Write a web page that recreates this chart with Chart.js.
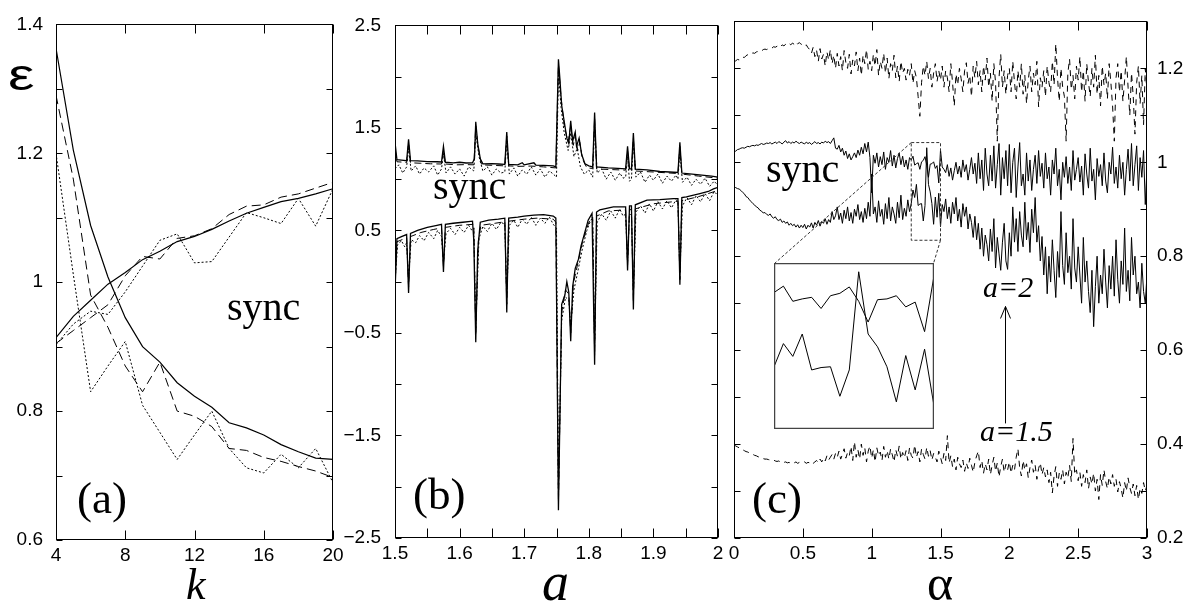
<!DOCTYPE html>
<html>
<head>
<meta charset="utf-8">
<title>sync</title>
<script src="https://cdn.jsdelivr.net/npm/chart.js@4.4.1/dist/chart.umd.min.js"></script>
<style>
  body { margin: 0; background: #fff; }
  #stage { position: relative; width: 1194px; height: 604px; overflow: hidden; }
  #stage canvas { position: absolute; left: 0; top: 0; }
  .txt { position: absolute; line-height: 1; white-space: nowrap; color: #000;
         font-family: "Liberation Serif", "Times New Roman", serif; }
  .it { font-style: italic; }
</style>
</head>
<body>
<div id="stage">
  <canvas id="chartA" width="1194" height="604"></canvas>
  <canvas id="chartB" width="1194" height="604"></canvas>
  <canvas id="chartC" width="1194" height="604"></canvas>
  <canvas id="chartInset" width="160" height="166"></canvas>

  <div class="txt" style="left:8px;top:53px;font-family:'Liberation Sans',Arial,sans-serif;font-size:44px;transform:scaleX(1.35);transform-origin:left">ε</div>
  <div class="txt" style="left:227px;top:287px;font-size:40px">sync</div>
  <div class="txt" style="left:433px;top:166px;font-size:40px">sync</div>
  <div class="txt" style="left:766px;top:149px;font-size:40px">sync</div>
  <div class="txt" style="left:77px;top:476px;font-size:45px">(a)</div>
  <div class="txt" style="left:413px;top:472px;font-size:45px">(b)</div>
  <div class="txt" style="left:752px;top:476px;font-size:45px">(c)</div>
  <div class="txt it" style="left:186px;top:563px;font-size:44px">k</div>
  <div class="txt it" style="left:542px;top:555px;font-size:54px">a</div>
  <div class="txt" style="left:927px;top:558px;font-size:50px">α</div>
  <div class="txt it" style="left:983px;top:272px;font-size:30px">a=2</div>
  <div class="txt it" style="left:980px;top:416px;font-size:30px">a=1.5</div>
</div>

<script>
// ---- panel (a): epsilon vs k ----
const kValues = [4, 5, 6, 7, 8, 9, 10, 11, 12, 13, 14, 15, 16, 17, 18, 19, 20];
const aLowSolid = [1.363, 1.205, 1.088, 1.008, 0.945, 0.900, 0.876, 0.844, 0.823, 0.806, 0.782, 0.774, 0.763, 0.748, 0.737, 0.727, 0.725];
const aLowDash  = [1.290, 1.160, 0.980, 0.930, 0.870, 0.830, 0.876, 0.800, 0.792, 0.776, 0.742, 0.739, 0.728, 0.722, 0.714, 0.707, 0.697];
const aLowDot   = [1.200, 1.012, 0.830, 0.870, 0.908, 0.809, 0.767, 0.725, 0.763, 0.800, 0.742, 0.712, 0.704, 0.733, 0.712, 0.742, 0.689];
const aUpSolid  = [0.914, 0.947, 0.972, 0.997, 1.015, 1.035, 1.048, 1.063, 1.071, 1.082, 1.095, 1.107, 1.116, 1.125, 1.130, 1.137, 1.145];
const aUpDash   = [0.905, 0.925, 0.945, 0.965, 1.010, 1.040, 1.036, 1.068, 1.072, 1.083, 1.105, 1.118, 1.120, 1.132, 1.137, 1.146, 1.155];
const aUpDot    = [0.903, 0.935, 0.955, 0.950, 0.985, 1.025, 1.065, 1.075, 1.030, 1.032, 1.070, 1.108, 1.100, 1.091, 1.130, 1.087, 1.145];

// ---- panel (b): [a, value] pairs ----
const bUpSolid = [[1.5,1.36],[1.503,1.19],[1.51,1.185],[1.518,1.18],[1.521,1.39],[1.524,1.18],[1.535,1.178],[1.55,1.172],[1.565,1.17],[1.572,1.168],[1.575,1.32],[1.578,1.165],[1.59,1.16],[1.6,1.165],[1.61,1.158],[1.62,1.16],[1.623,1.2],[1.625,1.56],[1.628,1.35],[1.632,1.2],[1.636,1.15],[1.65,1.152],[1.66,1.148],[1.67,1.145],[1.673,1.46],[1.676,1.145],[1.69,1.14],[1.697,1.16],[1.7,1.14],[1.715,1.16],[1.718,1.138],[1.73,1.135],[1.745,1.13],[1.749,1.12],[1.753,2.17],[1.755,2.0],[1.758,1.72],[1.762,1.56],[1.766,1.4],[1.769,1.35],[1.772,1.57],[1.775,1.37],[1.779,1.46],[1.781,1.32],[1.785,1.4],[1.789,1.24],[1.794,1.15],[1.8,1.13],[1.806,1.12],[1.809,1.65],[1.812,1.12],[1.83,1.11],[1.845,1.105],[1.857,1.1],[1.86,1.32],[1.863,1.1],[1.866,1.1],[1.869,1.45],[1.872,1.098],[1.89,1.09],[1.91,1.075],[1.925,1.07],[1.938,1.065],[1.941,1.36],[1.944,1.06],[1.96,1.05],[1.975,1.04],[1.99,1.03],[2.0,1.02]];
const bUpDash = [[1.5,1.3],[1.503,1.17],[1.515,1.165],[1.518,1.162],[1.521,1.35],[1.524,1.16],[1.54,1.155],[1.555,1.15],[1.572,1.148],[1.575,1.28],[1.578,1.148],[1.595,1.14],[1.61,1.142],[1.622,1.14],[1.625,1.52],[1.629,1.3],[1.634,1.14],[1.65,1.135],[1.67,1.13],[1.673,1.42],[1.676,1.13],[1.69,1.125],[1.71,1.128],[1.73,1.12],[1.749,1.11],[1.753,2.12],[1.757,1.8],[1.762,1.52],[1.768,1.36],[1.772,1.52],[1.776,1.33],[1.779,1.42],[1.783,1.28],[1.786,1.36],[1.79,1.2],[1.797,1.11],[1.806,1.105],[1.809,1.6],[1.812,1.1],[1.83,1.095],[1.857,1.088],[1.86,1.28],[1.863,1.085],[1.866,1.084],[1.869,1.4],[1.872,1.08],[1.9,1.07],[1.938,1.055],[1.941,1.32],[1.944,1.05],[1.97,1.03],[2.0,1.01]];
const bUpDot = [[1.5,1.1],[1.506,1.14],[1.512,1.06],[1.518,1.12],[1.521,1.3],[1.525,1.08],[1.532,1.13],[1.538,1.05],[1.545,1.11],[1.552,1.07],[1.56,1.13],[1.566,1.04],[1.572,1.1],[1.575,1.25],[1.579,1.06],[1.586,1.12],[1.593,1.05],[1.6,1.1],[1.607,1.03],[1.614,1.12],[1.622,1.08],[1.625,1.45],[1.63,1.22],[1.636,1.08],[1.643,1.12],[1.65,1.04],[1.657,1.1],[1.664,1.06],[1.67,1.07],[1.673,1.38],[1.677,1.05],[1.684,1.11],[1.69,1.03],[1.697,1.09],[1.704,1.05],[1.711,1.12],[1.718,1.04],[1.725,1.1],[1.732,1.02],[1.739,1.08],[1.745,1.05],[1.75,1.02],[1.753,2.05],[1.757,1.7],[1.762,1.45],[1.768,1.28],[1.772,1.45],[1.777,1.22],[1.782,1.3],[1.787,1.12],[1.793,1.05],[1.8,1.09],[1.806,1.02],[1.809,1.52],[1.813,1.06],[1.82,1.1],[1.827,1.0],[1.834,1.07],[1.841,0.99],[1.848,1.06],[1.853,1.01],[1.857,1.02],[1.86,1.22],[1.863,0.98],[1.866,1.0],[1.869,1.35],[1.873,1.02],[1.88,1.07],[1.887,0.97],[1.894,1.04],[1.9,0.99],[1.907,1.05],[1.914,0.96],[1.921,1.03],[1.928,0.98],[1.935,1.04],[1.938,1.0],[1.941,1.28],[1.945,0.97],[1.952,1.02],[1.959,0.94],[1.966,1.0],[1.973,0.95],[1.98,1.01],[1.987,0.93],[1.994,0.98],[2.0,0.94]];
const bLowSolid = [[1.5,-0.1],[1.503,0.42],[1.51,0.44],[1.518,0.46],[1.521,-0.11],[1.524,0.47],[1.535,0.5],[1.55,0.53],[1.565,0.55],[1.572,0.56],[1.575,0.094],[1.578,0.56],[1.59,0.57],[1.605,0.58],[1.62,0.59],[1.622,0.4],[1.625,-0.59],[1.628,0.3],[1.632,0.58],[1.645,0.6],[1.66,0.61],[1.67,0.62],[1.673,-0.3],[1.676,0.62],[1.69,0.63],[1.7,0.64],[1.715,0.65],[1.73,0.655],[1.745,0.64],[1.749,0.62],[1.753,-2.23],[1.758,-0.22],[1.763,-0.13],[1.766,0.0],[1.769,-0.1],[1.772,-0.58],[1.775,-0.05],[1.779,0.13],[1.784,0.22],[1.788,0.35],[1.792,0.44],[1.799,0.6],[1.805,0.667],[1.809,-0.81],[1.812,0.68],[1.817,0.7],[1.838,0.73],[1.857,0.73],[1.86,0.11],[1.863,0.74],[1.866,0.74],[1.869,-0.27],[1.872,0.75],[1.89,0.795],[1.91,0.8],[1.931,0.81],[1.938,0.81],[1.941,-0.03],[1.944,0.82],[1.951,0.827],[1.972,0.859],[1.985,0.88],[1.993,0.906],[2.0,0.92]];
const bLowDash = [[1.5,-0.05],[1.503,0.39],[1.515,0.42],[1.518,0.43],[1.521,-0.05],[1.524,0.44],[1.54,0.48],[1.56,0.51],[1.572,0.525],[1.575,0.15],[1.578,0.53],[1.6,0.55],[1.622,0.56],[1.625,-0.52],[1.629,0.4],[1.633,0.55],[1.655,0.57],[1.67,0.585],[1.673,-0.22],[1.676,0.59],[1.7,0.61],[1.72,0.62],[1.745,0.61],[1.749,0.58],[1.753,-2.15],[1.758,-0.3],[1.764,-0.08],[1.769,-0.12],[1.772,-0.5],[1.776,-0.02],[1.782,0.15],[1.79,0.38],[1.8,0.58],[1.806,0.63],[1.809,-0.72],[1.812,0.64],[1.83,0.69],[1.857,0.7],[1.86,0.16],[1.863,0.7],[1.866,0.705],[1.869,-0.2],[1.872,0.71],[1.9,0.76],[1.938,0.785],[1.941,0.02],[1.944,0.79],[1.97,0.83],[2.0,0.89]];
const bLowDot = [[1.5,0.0],[1.504,0.36],[1.51,0.4],[1.515,0.34],[1.518,0.38],[1.521,0.02],[1.525,0.41],[1.532,0.38],[1.538,0.45],[1.545,0.4],[1.552,0.48],[1.56,0.42],[1.566,0.5],[1.572,0.44],[1.575,0.18],[1.579,0.47],[1.586,0.52],[1.593,0.46],[1.6,0.53],[1.607,0.48],[1.614,0.55],[1.619,0.5],[1.622,0.52],[1.625,-0.45],[1.63,0.42],[1.636,0.54],[1.643,0.49],[1.65,0.57],[1.657,0.51],[1.664,0.58],[1.67,0.56],[1.673,-0.15],[1.677,0.55],[1.684,0.6],[1.69,0.53],[1.697,0.61],[1.704,0.56],[1.711,0.63],[1.718,0.55],[1.725,0.62],[1.732,0.57],[1.739,0.63],[1.745,0.56],[1.75,0.52],[1.753,-2.05],[1.758,-0.38],[1.764,-0.15],[1.769,-0.18],[1.772,-0.42],[1.777,-0.08],[1.783,0.1],[1.79,0.32],[1.797,0.5],[1.803,0.6],[1.806,0.62],[1.809,-0.62],[1.813,0.58],[1.82,0.66],[1.827,0.6],[1.834,0.69],[1.841,0.62],[1.848,0.71],[1.853,0.64],[1.857,0.66],[1.86,0.2],[1.863,0.66],[1.866,0.65],[1.869,-0.12],[1.873,0.68],[1.88,0.74],[1.887,0.67],[1.894,0.76],[1.9,0.69],[1.907,0.78],[1.914,0.71],[1.921,0.79],[1.928,0.72],[1.935,0.8],[1.938,0.78],[1.941,0.08],[1.945,0.74],[1.952,0.82],[1.959,0.75],[1.966,0.84],[1.973,0.78],[1.98,0.86],[1.987,0.79],[1.994,0.88],[2.0,0.84]];

// ---- panel (c): sampled every alphaStep from alpha = 0 to 3 ----
const alphaStep = 0.0125;
const cTopDash = [
  1.214,1.216,1.219,1.218,1.222,1.224,1.223,1.227,1.229,1.228,1.231,1.233,1.232,1.235,1.236,1.238,1.237,1.240,1.241,1.240,
  1.242,1.244,1.243,1.246,1.245,1.247,1.249,1.246,1.250,1.248,1.251,1.249,1.253,1.250,1.254,1.251,1.256,1.252,1.255,1.251,
  1.252,1.248,1.250,1.244,1.240,1.232,1.245,1.225,1.238,1.215,1.242,1.220,1.230,1.205,1.235,1.218,1.240,1.210,1.228,1.200,
  1.232,1.205,1.225,1.195,1.238,1.212,1.200,1.230,1.188,1.218,1.205,1.235,1.195,1.222,1.185,1.228,1.210,1.240,1.198,1.215,
  1.195,1.230,1.205,1.240,1.185,1.215,1.200,1.232,1.190,1.222,1.178,1.210,1.195,1.228,1.180,1.205,1.172,1.215,1.190,1.200,
  1.175,1.198,1.185,1.210,1.168,1.195,1.180,1.140,1.098,1.170,1.205,1.185,1.215,1.178,1.200,1.160,1.190,1.210,1.172,1.195,
  1.175,1.205,1.160,1.195,1.180,1.150,1.210,1.170,1.120,1.188,1.165,1.200,1.178,1.150,1.195,1.212,1.168,1.185,1.140,1.205,
  1.180,1.215,1.165,1.195,1.150,1.205,1.175,1.222,1.160,1.190,1.130,1.210,1.170,1.045,1.180,1.230,1.160,1.195,1.145,1.185,
  1.200,1.150,1.215,1.170,1.135,1.195,1.160,1.210,1.145,1.185,1.125,1.175,1.205,1.150,1.190,1.165,1.215,1.118,1.180,1.160,
  1.195,1.140,1.205,1.170,1.150,1.215,1.165,1.252,1.180,1.130,1.200,1.160,1.140,1.045,1.190,1.220,1.155,1.185,1.135,1.205,
  1.175,1.225,1.150,1.195,1.130,1.210,1.170,1.140,1.200,1.160,1.228,1.145,1.185,1.120,1.205,1.165,1.190,1.135,1.210,1.170,
  1.120,1.045,1.180,1.210,1.150,1.195,1.130,1.175,1.225,1.160,1.100,1.190,1.140,1.060,1.170,1.205,1.125,1.185,1.080,1.200,
  1.150];
const cUpSolid = [
  1.021,1.024,1.027,1.028,1.030,1.031,1.030,1.032,1.034,1.033,1.035,1.036,1.035,1.037,1.036,1.038,1.040,1.038,1.039,1.041,
  1.040,1.042,1.039,1.041,1.043,1.040,1.044,1.042,1.039,1.043,1.046,1.041,1.044,1.040,1.043,1.041,1.045,1.042,1.040,1.043,
  1.041,1.039,1.043,1.040,1.042,1.038,1.041,1.044,1.040,1.042,1.039,1.043,1.041,1.045,1.042,1.044,1.040,1.046,1.052,1.030,
  1.028,1.036,1.022,1.030,1.015,1.024,1.008,1.018,1.005,1.012,1.020,1.010,1.026,1.015,1.032,1.018,1.040,1.022,1.043,1.010,
  0.935,1.015,0.998,1.020,0.990,1.012,0.995,1.022,0.985,1.010,1.000,1.025,0.992,1.015,0.988,1.008,1.020,0.995,1.013,0.990,
  1.005,0.985,1.010,1.005,1.013,0.994,0.997,0.999,0.985,1.001,1.004,1.012,0.994,0.968,0.996,0.997,1.001,0.987,0.993,0.956,
  1.026,0.990,0.985,0.978,0.995,0.970,0.988,0.962,0.982,1.000,0.975,0.992,0.968,1.005,0.980,0.995,0.962,0.985,1.010,0.975,
  0.998,0.955,1.020,0.965,1.005,0.940,1.030,0.975,0.950,1.015,0.960,1.035,0.945,0.995,1.040,0.930,1.010,0.965,1.025,0.950,
  1.038,0.935,1.000,1.030,0.925,0.990,1.042,0.950,0.975,0.930,1.020,0.960,1.005,0.940,0.985,1.015,0.955,1.025,0.970,0.998,
  0.945,1.020,0.965,0.990,0.930,1.005,0.975,1.030,0.950,0.985,0.920,1.000,0.968,1.012,0.955,0.990,0.940,1.025,0.962,0.985,
  1.010,0.958,0.992,0.930,1.018,0.975,0.945,1.030,0.960,0.985,0.920,1.008,0.970,0.995,0.950,1.020,0.960,0.935,1.000,0.975,
  1.032,0.955,0.990,0.945,1.015,0.965,1.000,0.930,0.985,1.028,0.960,1.040,0.950,0.995,1.035,0.940,1.010,0.968,1.025,0.910,
  0.990];
const cLowSolid = [
  0.948,0.946,0.944,0.943,0.940,0.936,0.933,0.927,0.925,0.920,0.916,0.912,0.909,0.905,0.903,0.898,0.896,0.892,0.893,0.889,
  0.887,0.890,0.884,0.881,0.884,0.878,0.876,0.879,0.872,0.875,0.870,0.873,0.866,0.870,0.865,0.868,0.862,0.867,0.860,0.866,
  0.861,0.868,0.858,0.866,0.862,0.871,0.860,0.872,0.866,0.876,0.864,0.874,0.870,0.880,0.868,0.878,0.872,0.895,0.878,0.886,
  0.905,0.878,0.892,0.870,0.898,0.880,0.905,0.875,0.893,0.870,0.900,0.885,0.910,0.878,0.895,0.872,0.902,0.880,0.915,0.885,
  0.975,0.890,0.905,0.872,0.918,0.885,0.900,0.868,0.912,0.880,0.925,0.875,0.905,0.890,0.870,0.915,0.882,0.930,0.878,0.902,
  0.885,0.920,0.895,0.912,0.941,0.925,0.953,0.908,0.911,0.912,0.875,0.908,1.031,0.953,0.937,0.912,0.868,0.926,0.883,0.934,
  0.863,0.910,0.895,0.922,0.880,0.905,0.870,0.915,0.890,0.925,0.875,0.900,0.862,0.912,0.885,0.905,0.858,0.890,0.872,0.840,
  0.885,0.835,0.870,0.815,0.860,0.800,0.845,0.825,0.790,0.858,0.810,0.880,0.775,0.840,0.805,0.770,0.830,0.870,0.790,0.772,
  0.850,0.800,0.905,0.830,0.880,0.810,0.895,0.845,0.820,0.915,0.835,0.872,0.808,0.900,0.850,0.925,0.830,0.865,0.790,0.842,
  0.760,0.820,0.720,0.800,0.745,0.835,0.770,0.712,0.810,0.755,0.895,0.780,0.740,0.850,0.765,0.800,0.730,0.880,0.775,0.745,
  0.820,0.760,0.700,0.840,0.745,0.790,0.725,0.680,0.770,0.650,0.735,0.800,0.700,0.760,0.720,0.815,0.745,0.690,0.780,0.730,
  0.800,0.715,0.835,0.750,0.700,0.790,0.740,0.860,0.725,0.770,0.705,0.840,0.760,0.800,0.720,0.745,0.690,0.785,0.725,0.700,
  0.760];
const cBotDash = [
  0.399,0.396,0.394,0.392,0.389,0.388,0.386,0.384,0.383,0.381,0.380,0.378,0.376,0.375,0.373,0.372,0.371,0.369,0.368,0.368,
  0.367,0.366,0.365,0.366,0.364,0.363,0.364,0.362,0.363,0.361,0.362,0.360,0.361,0.359,0.361,0.360,0.362,0.359,0.361,0.360,
  0.360,0.362,0.359,0.361,0.360,0.363,0.359,0.362,0.365,0.360,0.368,0.362,0.370,0.364,0.375,0.366,0.372,0.378,0.368,0.380,
  0.372,0.385,0.368,0.378,0.390,0.370,0.382,0.375,0.395,0.365,0.405,0.372,0.388,0.368,0.400,0.376,0.392,0.362,0.385,0.396,
  0.370,0.388,0.362,0.392,0.375,0.383,0.365,0.395,0.372,0.386,0.368,0.390,0.377,0.362,0.388,0.374,0.396,0.368,0.382,0.371,
  0.386,0.365,0.392,0.376,0.370,0.398,0.372,0.384,0.362,0.390,0.378,0.368,0.393,0.374,0.386,0.366,0.380,0.372,0.362,0.385,
  0.372,0.358,0.380,0.365,0.418,0.360,0.375,0.352,0.368,0.345,0.372,0.358,0.350,0.366,0.342,0.360,0.348,0.370,0.355,0.340,
  0.362,0.375,0.385,0.350,0.365,0.338,0.358,0.345,0.368,0.335,0.355,0.372,0.342,0.360,0.330,0.352,0.368,0.340,0.357,0.345,
  0.362,0.338,0.355,0.345,0.372,0.390,0.350,0.332,0.365,0.345,0.358,0.328,0.350,0.366,0.340,0.355,0.325,0.348,0.360,0.335,
  0.350,0.330,0.345,0.318,0.340,0.296,0.332,0.352,0.310,0.338,0.325,0.345,0.315,0.340,0.328,0.355,0.320,0.412,0.335,0.345,
  0.322,0.340,0.310,0.335,0.318,0.345,0.305,0.330,0.315,0.338,0.300,0.325,0.282,0.335,0.312,0.345,0.320,0.305,0.330,0.315,
  0.335,0.310,0.325,0.298,0.320,0.305,0.285,0.318,0.300,0.328,0.308,0.295,0.315,0.290,0.312,0.282,0.305,0.295,0.318,0.300,
  0.312];

// zoomed window shown in the inset of (c)
const insetAlpha = [1.2875, 1.5];
const insetRange = [0.834, 1.042];
const insetBox = { left: 774, top: 263, width: 160, height: 166 };
// arrow between the a=1.5 and a=2 labels
const arrowAlpha = 1.97, arrowFrom = 0.444, arrowTo = 0.693;

Chart.defaults.font.family = "'Liberation Sans', Arial, sans-serif";
Chart.defaults.color = '#000';
const tickFont = { size: 19 };

const SOLID = [], DASH = [9, 5], DOT = [2, 2];

// frame around the plot with inward ticks on all four sides
const framePlugin = {
    id: 'frame',
    afterDatasetsDraw(chart, args, opts) {
        const { ctx, chartArea: a } = chart;
        const l = Math.round(a.left) + 0.5, r = Math.round(a.right) - 0.5;
        const t = Math.round(a.top) + 0.5, b = Math.round(a.bottom) - 0.5;
        ctx.save();
        ctx.strokeStyle = opts.color || '#000';
        ctx.lineWidth = opts.width || 1;
        ctx.setLineDash([]);
        ctx.strokeRect(l, t, r - l, b - t);
        ctx.beginPath();
        if (opts.xTick) {
            chart.scales.x.ticks.forEach(tk => {
                const px = Math.round(chart.scales.x.getPixelForValue(tk.value)) + 0.5;
                ctx.moveTo(px, b); ctx.lineTo(px, b - opts.xTick);
                ctx.moveTo(px, t); ctx.lineTo(px, t + opts.xTick);
            });
        }
        if (opts.yTick) {
            chart.scales.y.ticks.forEach(tk => {
                const py = Math.round(chart.scales.y.getPixelForValue(tk.value)) + 0.5;
                ctx.moveTo(l, py); ctx.lineTo(l + opts.yTick, py);
                ctx.moveTo(r, py); ctx.lineTo(r - opts.yTick, py);
            });
        }
        ctx.stroke();
        ctx.restore();
    }
};

// dotted box, the two guide lines to the inset and the arrow in panel (c)
const zoomMarks = {
    id: 'zoomMarks',
    afterDatasetsDraw(chart) {
        const { ctx } = chart;
        const xs = chart.scales.x, ys = chart.scales.y;
        const left = xs.getPixelForValue(insetAlpha[0]), right = xs.getPixelForValue(insetAlpha[1]);
        const top = ys.getPixelForValue(insetRange[1]), bottom = ys.getPixelForValue(insetRange[0]);
        ctx.save();
        ctx.strokeStyle = '#333';
        ctx.lineWidth = 1;
        ctx.setLineDash([3, 2]);
        ctx.strokeRect(left, top, right - left, bottom - top);
        ctx.beginPath();
        ctx.moveTo(left, top); ctx.lineTo(insetBox.left + 0.5, insetBox.top + 0.5);
        ctx.moveTo(right, bottom); ctx.lineTo(insetBox.left + insetBox.width - 0.5, insetBox.top + 0.5);
        ctx.stroke();

        ctx.setLineDash([]);
        ctx.strokeStyle = '#000';
        const ax = Math.round(xs.getPixelForValue(arrowAlpha)) + 0.5;
        const y0 = ys.getPixelForValue(arrowFrom), y1 = ys.getPixelForValue(arrowTo);
        ctx.beginPath();
        ctx.moveTo(ax, y0); ctx.lineTo(ax, y1);
        ctx.moveTo(ax - 5, y1 + 12); ctx.lineTo(ax, y1); ctx.lineTo(ax + 5, y1 + 12);
        ctx.stroke();
        ctx.restore();
    }
};

function line(points, dash, width) {
    return {
        data: points,
        borderColor: '#000',
        borderWidth: width || 1,
        borderDash: dash,
        pointRadius: 0,
        tension: 0,
        fill: false
    };
}

function fromPairs(list) {
    return list.map(p => ({ x: p[0], y: p[1] }));
}

function fromSeries(xs, ys) {
    return ys.map((v, i) => ({ x: xs[i], y: v }));
}

function fromSteps(ys, from, to) {
    const out = [];
    for (let i = from; i <= to; i++) {
        out.push({ x: Math.round(i * alphaStep * 10000) / 10000, y: ys[i] });
    }
    return out;
}

function axis(min, max, step, label, opts) {
    return {
        type: 'linear',
        min: min,
        max: max,
        position: opts.position,
        display: opts.display !== false,
        grid: { display: false, drawTicks: false },
        border: { display: false },
        ticks: {
            stepSize: step,
            autoSkip: false,
            maxRotation: 0,
            padding: opts.padding,
            font: tickFont,
            color: '#000',
            callback: label
        },
        afterFit: s => {
            if (opts.width !== undefined) s.width = opts.width;
            if (opts.height !== undefined) s.height = opts.height;
        }
    };
}

function makeChart(id, datasets, scales, padding, frame, extra) {
    return new Chart(document.getElementById(id), {
        type: 'line',
        data: { datasets: datasets },
        options: {
            responsive: false,
            animation: false,
            events: [],
            layout: { padding: padding },
            plugins: { legend: { display: false }, tooltip: { enabled: false }, frame: frame },
            scales: scales
        },
        plugins: [framePlugin].concat(extra || [])
    });
}

// tick label helpers
const everyOther = v => { const t = Math.round(v * 10); return t % 2 === 0 ? String(t / 10) : ''; };
const oddHalves = v => {
    const t = Math.round(v * 10);
    return Math.abs(t) % 10 === 5 ? String(t / 10).replace('-', '\u2212') : '';
};
const tenths = v => { const t = Math.round(v * 100); return t % 10 === 0 ? String(t / 100) : ''; };
const plain = v => String(Math.round(v * 10) / 10);

// panel (a)
makeChart('chartA', [
    line(fromSeries(kValues, aLowSolid), SOLID, 1.2),
    line(fromSeries(kValues, aLowDash), DASH, 1),
    line(fromSeries(kValues, aLowDot), DOT, 1),
    line(fromSeries(kValues, aUpSolid), SOLID, 1.2),
    line(fromSeries(kValues, aUpDash), DASH, 1),
    line(fromSeries(kValues, aUpDot), DOT, 1)
], {
    x: axis(4, 20, 4, v => String(v), { position: 'bottom', padding: 4, height: 64 }),
    y: axis(0.6, 1.4, 0.1, everyOther, { position: 'left', padding: 13, width: 56 })
}, { left: 0, top: 16, right: 861, bottom: 0 }, { xTick: 9, yTick: 6 });

// panel (b)
makeChart('chartB', [
    line(fromPairs(bUpDot), DOT, 1),
    line(fromPairs(bLowDot), DOT, 1),
    line(fromPairs(bUpDash), [7, 4], 1),
    line(fromPairs(bLowDash), [7, 4], 1),
    line(fromPairs(bUpSolid), SOLID, 1.3),
    line(fromPairs(bLowSolid), SOLID, 1.3)
], {
    x: axis(1.5, 2, 0.05, tenths, { position: 'bottom', padding: 4, height: 66 }),
    y: axis(-2.5, 2.5, 0.5, oddHalves, { position: 'left', padding: 14, width: 55 })
}, { left: 340, top: 15, right: 476, bottom: 0 }, { xTick: 9, yTick: 6 });

// panel (c)
const lastIndex = cUpSolid.length - 1;
makeChart('chartC', [
    line(fromSteps(cTopDash, 0, lastIndex), [6, 5], 1),
    line(fromSteps(cUpSolid, 0, lastIndex), SOLID, 1),
    line(fromSteps(cLowSolid, 0, lastIndex), SOLID, 1),
    line(fromSteps(cBotDash, 0, lastIndex), [6, 5], 1)
], {
    x: axis(0, 3, 0.5, plain, { position: 'bottom', padding: 4, height: 66 }),
    y: axis(0.2, 1.3, 0.1, everyOther, { position: 'right', padding: 10, width: 47 })
}, { left: 734, top: 14, right: 0, bottom: 0 }, { xTick: 9, yTick: 6 }, [zoomMarks]);

// inset: the same two curves inside the dotted box, enlarged
const insetCanvas = document.getElementById('chartInset');
insetCanvas.style.left = insetBox.left + 'px';
insetCanvas.style.top = insetBox.top + 'px';
insetCanvas.style.background = '#fff';
const firstIn = Math.round(insetAlpha[0] / alphaStep), lastIn = Math.round(insetAlpha[1] / alphaStep);
makeChart('chartInset', [
    line(fromSteps(cUpSolid, firstIn, lastIn), SOLID, 1),
    line(fromSteps(cLowSolid, firstIn, lastIn), SOLID, 1)
], {
    x: axis(insetAlpha[0], insetAlpha[1], 0.05, () => '', { display: false }),
    y: axis(insetRange[0], insetRange[1], 0.05, () => '', { display: false })
}, 0, { color: '#444', width: 1.5 });
</script>
</body>
</html>
